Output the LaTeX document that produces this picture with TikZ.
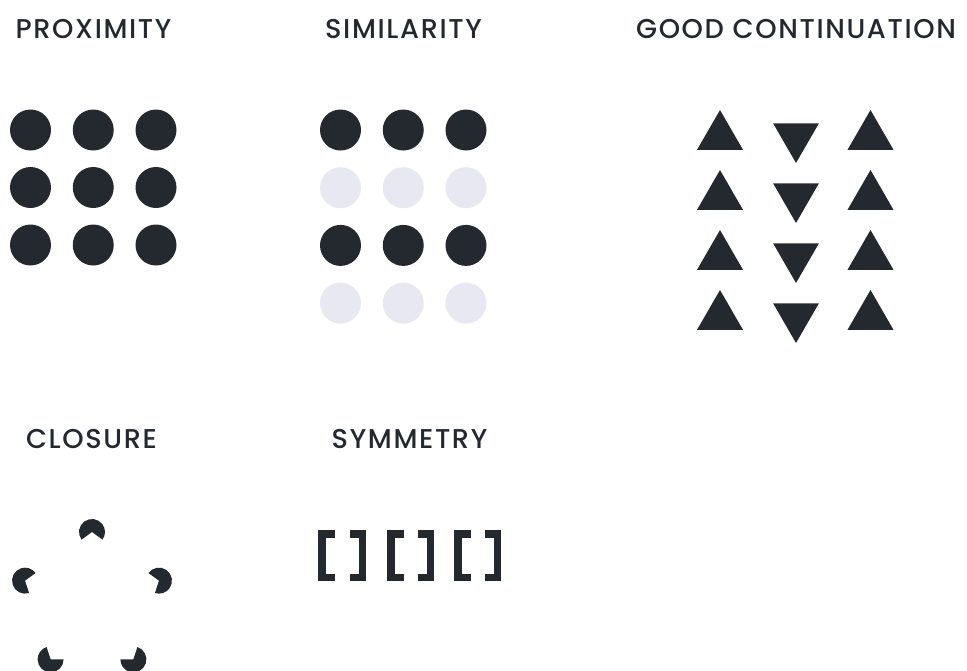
\documentclass[tikz,border=0pt]{standalone}
\usepackage{fontspec}
\IfFontExistsTF{Poppins Medium}{\setmainfont{Poppins Medium}}{\setmainfont{Poppins}[FakeBold=0.6]}
\usepackage{tikz}
\usetikzlibrary{shapes.geometric}
\definecolor{ink}{HTML}{24282F}
\definecolor{mist}{HTML}{E8E8F2}

\begin{document}
\begin{tikzpicture}[x=1pt, y=-1pt,
  dot/.style={circle, fill=#1, inner sep=0pt, minimum size=41pt},
  dot/.default=ink,
  tri/.style={regular polygon, regular polygon sides=3, fill=ink,
              inner sep=0pt, minimum size=53pt, shape border rotate=#1},
  tri/.default=0,
  ttl/.style={anchor=base, inner sep=0pt, text=ink,
              font=\fontsize{27.2}{32}\selectfont\addfontfeatures{LetterSpace=6}},
  brk/.style={draw=ink, line width=7.5pt, line join=miter}
]
\useasboundingbox (0,0) rectangle (967,670);
\clip (0,0) rectangle (967,670);

%% ── Titles ─────────────────────────────────────────────────────
\node[ttl] (prox) at (93.5,38)  {PROXIMITY};
\node[ttl] (sim)  at (403.5,38) {SIMILARITY};
\node[ttl] (cont) at (796,38)   {GOOD CONTINUATION};
\node[ttl] (clos) at (91.5,448) {CLOSURE};
\node[ttl] (symm) at (409.5,448) {SYMMETRY};

%% ── Proximity ──────────────────────────────────────────────────
\foreach \r in {1,2,3}
  \foreach \c in {1,2,3}
    \node[dot] (prox-\r-\c) at ({30.5+62.75*(\c-1)}, {130+57.5*(\r-1)}) {};

%% ── Similarity ─────────────────────────────────────────────────
\foreach \r/\col in {1/ink, 2/mist, 3/ink, 4/mist}
  \foreach \c in {1,2,3}
    \node[dot=\col] (sim-\r-\c) at ({340.5+62.75*(\c-1)}, {130+57.7*(\r-1)}) {};

%% ── Good continuation ──────────────────────────────────────────
\foreach \r in {1,...,4} {
  \node[tri]     (cont-\r-1) at (720, {136.5+60*(\r-1)}) {};
  \node[tri=180] (cont-\r-2) at (796, {136.5+60*(\r-1)}) {};
  \node[tri]     (cont-\r-3) at (870.5, {136.5+60*(\r-1)}) {};
}

%% ── Closure ────────────────────────────────────────────────────
\begin{scope}[shift={(92,602.4)}]
  \foreach \a in {-90,-18,54,126,198}
    \fill[ink] (\a:70.4) -- ++(\a+234:13)
      arc[start angle=\a+234, delta angle=252, radius=13] -- cycle;
\end{scope}

%% ── Symmetry ───────────────────────────────────────────────────
\foreach \l/\r in {318/366, 387/434, 454/501} {
  \draw[brk] (\l+17,533.75) -| (\l+3.75,577.25) -- (\l+17,577.25);
  \draw[brk] (\r-16.5,533.75) -| (\r-3.75,577.25) -- (\r-16.5,577.25);
}

\end{tikzpicture}
\end{document}
